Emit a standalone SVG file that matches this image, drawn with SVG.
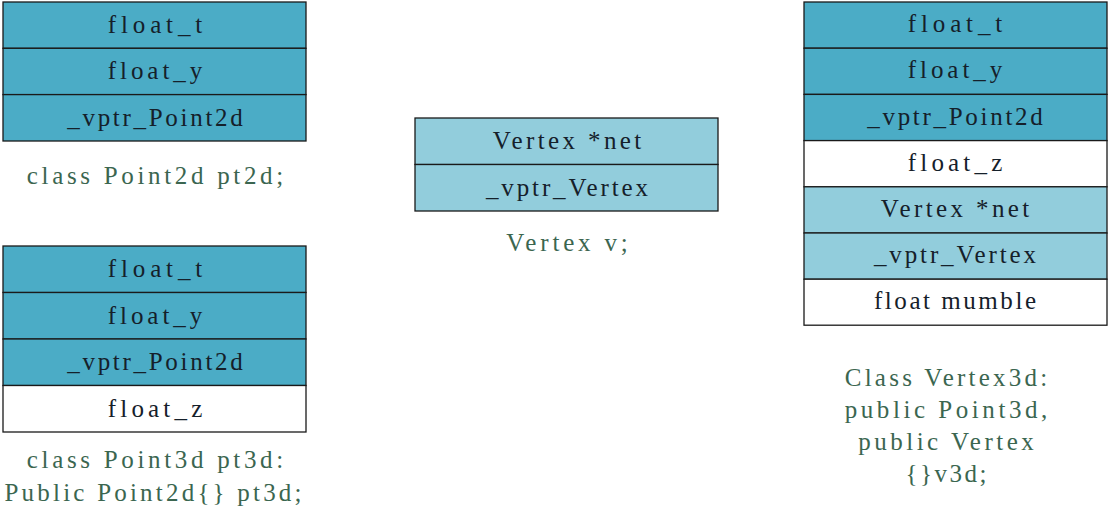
<svg xmlns="http://www.w3.org/2000/svg" width="1110" height="510" viewBox="0 0 1110 510">
<style>
.d{fill:#4BACC6;stroke:#1a1a1a;stroke-width:1.3}
.l{fill:#92CDDC;stroke:#1a1a1a;stroke-width:1.3}
.w{fill:#ffffff;stroke:#1a1a1a;stroke-width:1.3}
text{font-family:"Liberation Serif","DejaVu Serif",serif;font-size:25px;text-anchor:middle}
.t{fill:#15202a}
.c{fill:#3b6650}
</style>
<rect width="1110" height="510" fill="#ffffff"/>
<g id="pt2d">
<rect class="d" x="3" y="2" width="303" height="46.3"/>
<rect class="d" x="3" y="48.3" width="303" height="46.3"/>
<rect class="d" x="3" y="94.6" width="303" height="46.4"/>
<text class="t" x="155" y="33" textLength="94.5">float_t</text>
<text class="t" x="155" y="79" textLength="94.5">float_y</text>
<text class="t" x="155" y="126" textLength="175.5">_vptr_Point2d</text>
<text class="c" x="155" y="184" textLength="256.5">class Point2d pt2d;</text>
</g>
<g id="pt3d">
<rect class="d" x="3" y="246" width="303" height="46.5"/>
<rect class="d" x="3" y="292.5" width="303" height="46.5"/>
<rect class="d" x="3" y="339" width="303" height="46.5"/>
<rect class="w" x="3" y="385.5" width="303" height="46.5"/>
<text class="t" x="155" y="277" textLength="94.5">float_t</text>
<text class="t" x="155" y="324" textLength="94.5">float_y</text>
<text class="t" x="155" y="370" textLength="175.5">_vptr_Point2d</text>
<text class="t" x="155" y="417" textLength="94.5">float_z</text>
<text class="c" x="155" y="468" textLength="256.5">class Point3d pt3d:</text>
<text class="c" x="153" y="501" textLength="297">Public Point2d{} pt3d;</text>
</g>
<g id="v">
<rect class="l" x="415" y="118" width="303" height="46.5"/>
<rect class="l" x="415" y="164.5" width="303" height="46.5"/>
<text class="t" x="567" y="149" textLength="148.5">Vertex *net</text>
<text class="t" x="567" y="196" textLength="162">_vptr_Vertex</text>
<text class="c" x="567" y="251" textLength="121.5">Vertex v;</text>
</g>
<g id="v3d">
<rect class="d" x="804" y="2" width="303" height="46.2"/>
<rect class="d" x="804" y="48.2" width="303" height="46.2"/>
<rect class="d" x="804" y="94.4" width="303" height="46.2"/>
<rect class="w" x="804" y="140.6" width="303" height="46.2"/>
<rect class="l" x="804" y="186.8" width="303" height="46.2"/>
<rect class="l" x="804" y="233" width="303" height="46.2"/>
<rect class="w" x="804" y="279.2" width="303" height="46"/>
<text class="t" x="955" y="32" textLength="94.5">float_t</text>
<text class="t" x="955" y="78" textLength="94.5">float_y</text>
<text class="t" x="955" y="125" textLength="175.5">_vptr_Point2d</text>
<text class="t" x="955" y="171" textLength="94.5">float_z</text>
<text class="t" x="955" y="217" textLength="148.5">Vertex *net</text>
<text class="t" x="955" y="263" textLength="162">_vptr_Vertex</text>
<text class="t" x="955" y="309" textLength="162">float mumble</text>
<text class="c" x="946" y="386" textLength="202.5">Class Vertex3d:</text>
<text class="c" x="946" y="418" textLength="202.5">public Point3d,</text>
<text class="c" x="946" y="450" textLength="175.5">public Vertex</text>
<text class="c" x="946" y="482" textLength="81">{}v3d;</text>
</g>
</svg>
